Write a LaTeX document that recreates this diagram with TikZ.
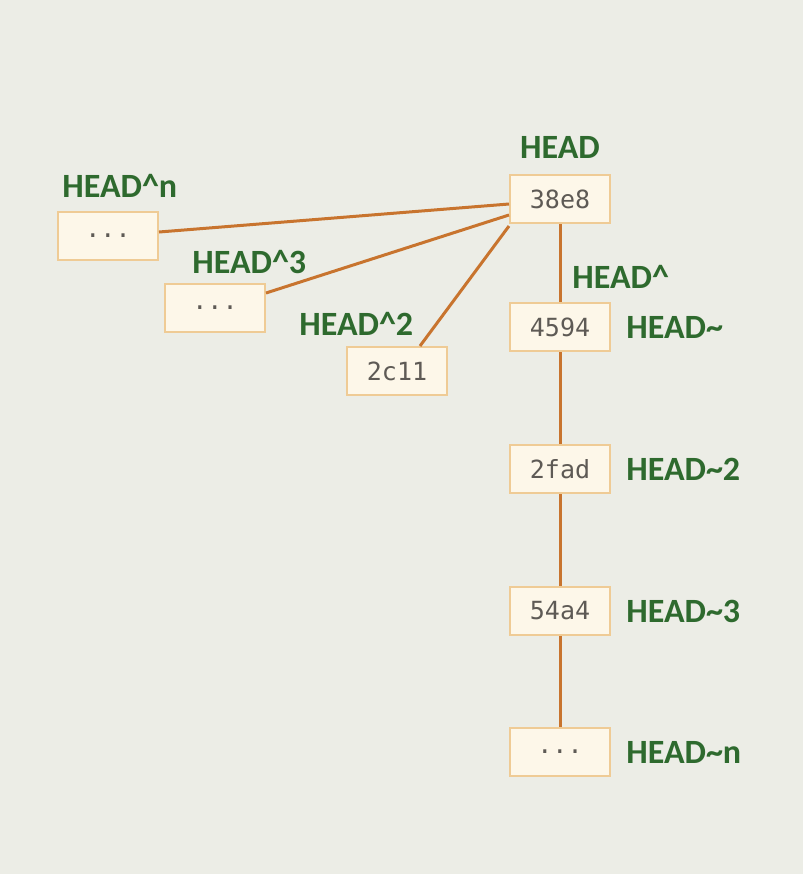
\documentclass[tikz,border=0pt]{standalone}
\usepackage{fontspec}
\setmainfont{Carlito}
\newfontfamily\hashfont{DejaVu Sans Mono}
\usetikzlibrary{positioning}
\definecolor{bgcol}{HTML}{ECEDE6}
\definecolor{boxfill}{HTML}{FDF7E9}
\definecolor{boxline}{HTML}{EFCB95}
\definecolor{edgecol}{HTML}{C8742E}
\definecolor{refcol}{HTML}{2E6A2E}
\definecolor{hashcol}{HTML}{5E5A55}

\begin{document}
\begin{tikzpicture}[x=0.5pt,y=-0.5pt]
          \tikzstyle{commit} = [draw=boxline, line width=1pt, fill=boxfill, minimum width=50pt, minimum height=24pt, inner sep=0pt, font=\hashfont\fontsize{12.5}{14}\selectfont, text=hashcol]
          \tikzstyle{ref} = [inner sep=0pt, font=\bfseries\fontsize{17}{20}\selectfont, text=refcol]
          \tikzstyle{edge} = [draw=edgecol, line width=1.5pt]

          \fill[bgcol] (0,0) rectangle (803,874);

          % first-parent chain
          \node[commit] (c38e8) at (560,199) {38e8};
          \node[commit] (c4594) at (560,327) {4594};
          \node[commit] (c2fad) at (560,469) {2fad};
          \node[commit] (c54a4) at (560,611) {54a4};
          \node[commit] (ctiln) at (560,752) {...};

          % other parents
          \node[commit] (ccarn) at (108,236) {...};
          \node[commit] (ccar3) at (215,308) {...};
          \node[commit] (c2c11) at (397,371) {2c11};

          \node[ref] (head) at (560,147) {HEAD};
          \node[ref, anchor=west] (rcarn) at (62,186) {HEAD\textasciicircum n};
          \node[ref, anchor=west] (rcar3) at (192,262) {HEAD\textasciicircum 3};
          \node[ref, anchor=west] (rcar2) at (299,324) {HEAD\textasciicircum 2};
          \node[ref, anchor=west] (rcar1) at (572,277) {HEAD\textasciicircum};
          \node[ref, right=7.5pt of c4594] (rtil1) {HEAD\textasciitilde};
          \node[ref, right=7.5pt of c2fad] (rtil2) {HEAD\textasciitilde 2};
          \node[ref, right=7.5pt of c54a4] (rtil3) {HEAD\textasciitilde 3};
          \node[ref, right=7.5pt of ctiln] (rtiln) {HEAD\textasciitilde n};

          \draw[edge] (c38e8) -- (c4594) -- (c2fad) -- (c54a4) -- (ctiln);
          \draw[edge] ([yshift=2pt]ccarn.east) -- ([yshift=-2.5pt]c38e8.west);
          \draw[edge] ([yshift=7.5pt]ccar3.east) -- ([yshift=-8pt]c38e8.west);
          \draw[edge] ([xshift=11.5pt]c2c11.north) -- ([yshift=-1pt]c38e8.south west);
        \end{tikzpicture}
\end{document}
